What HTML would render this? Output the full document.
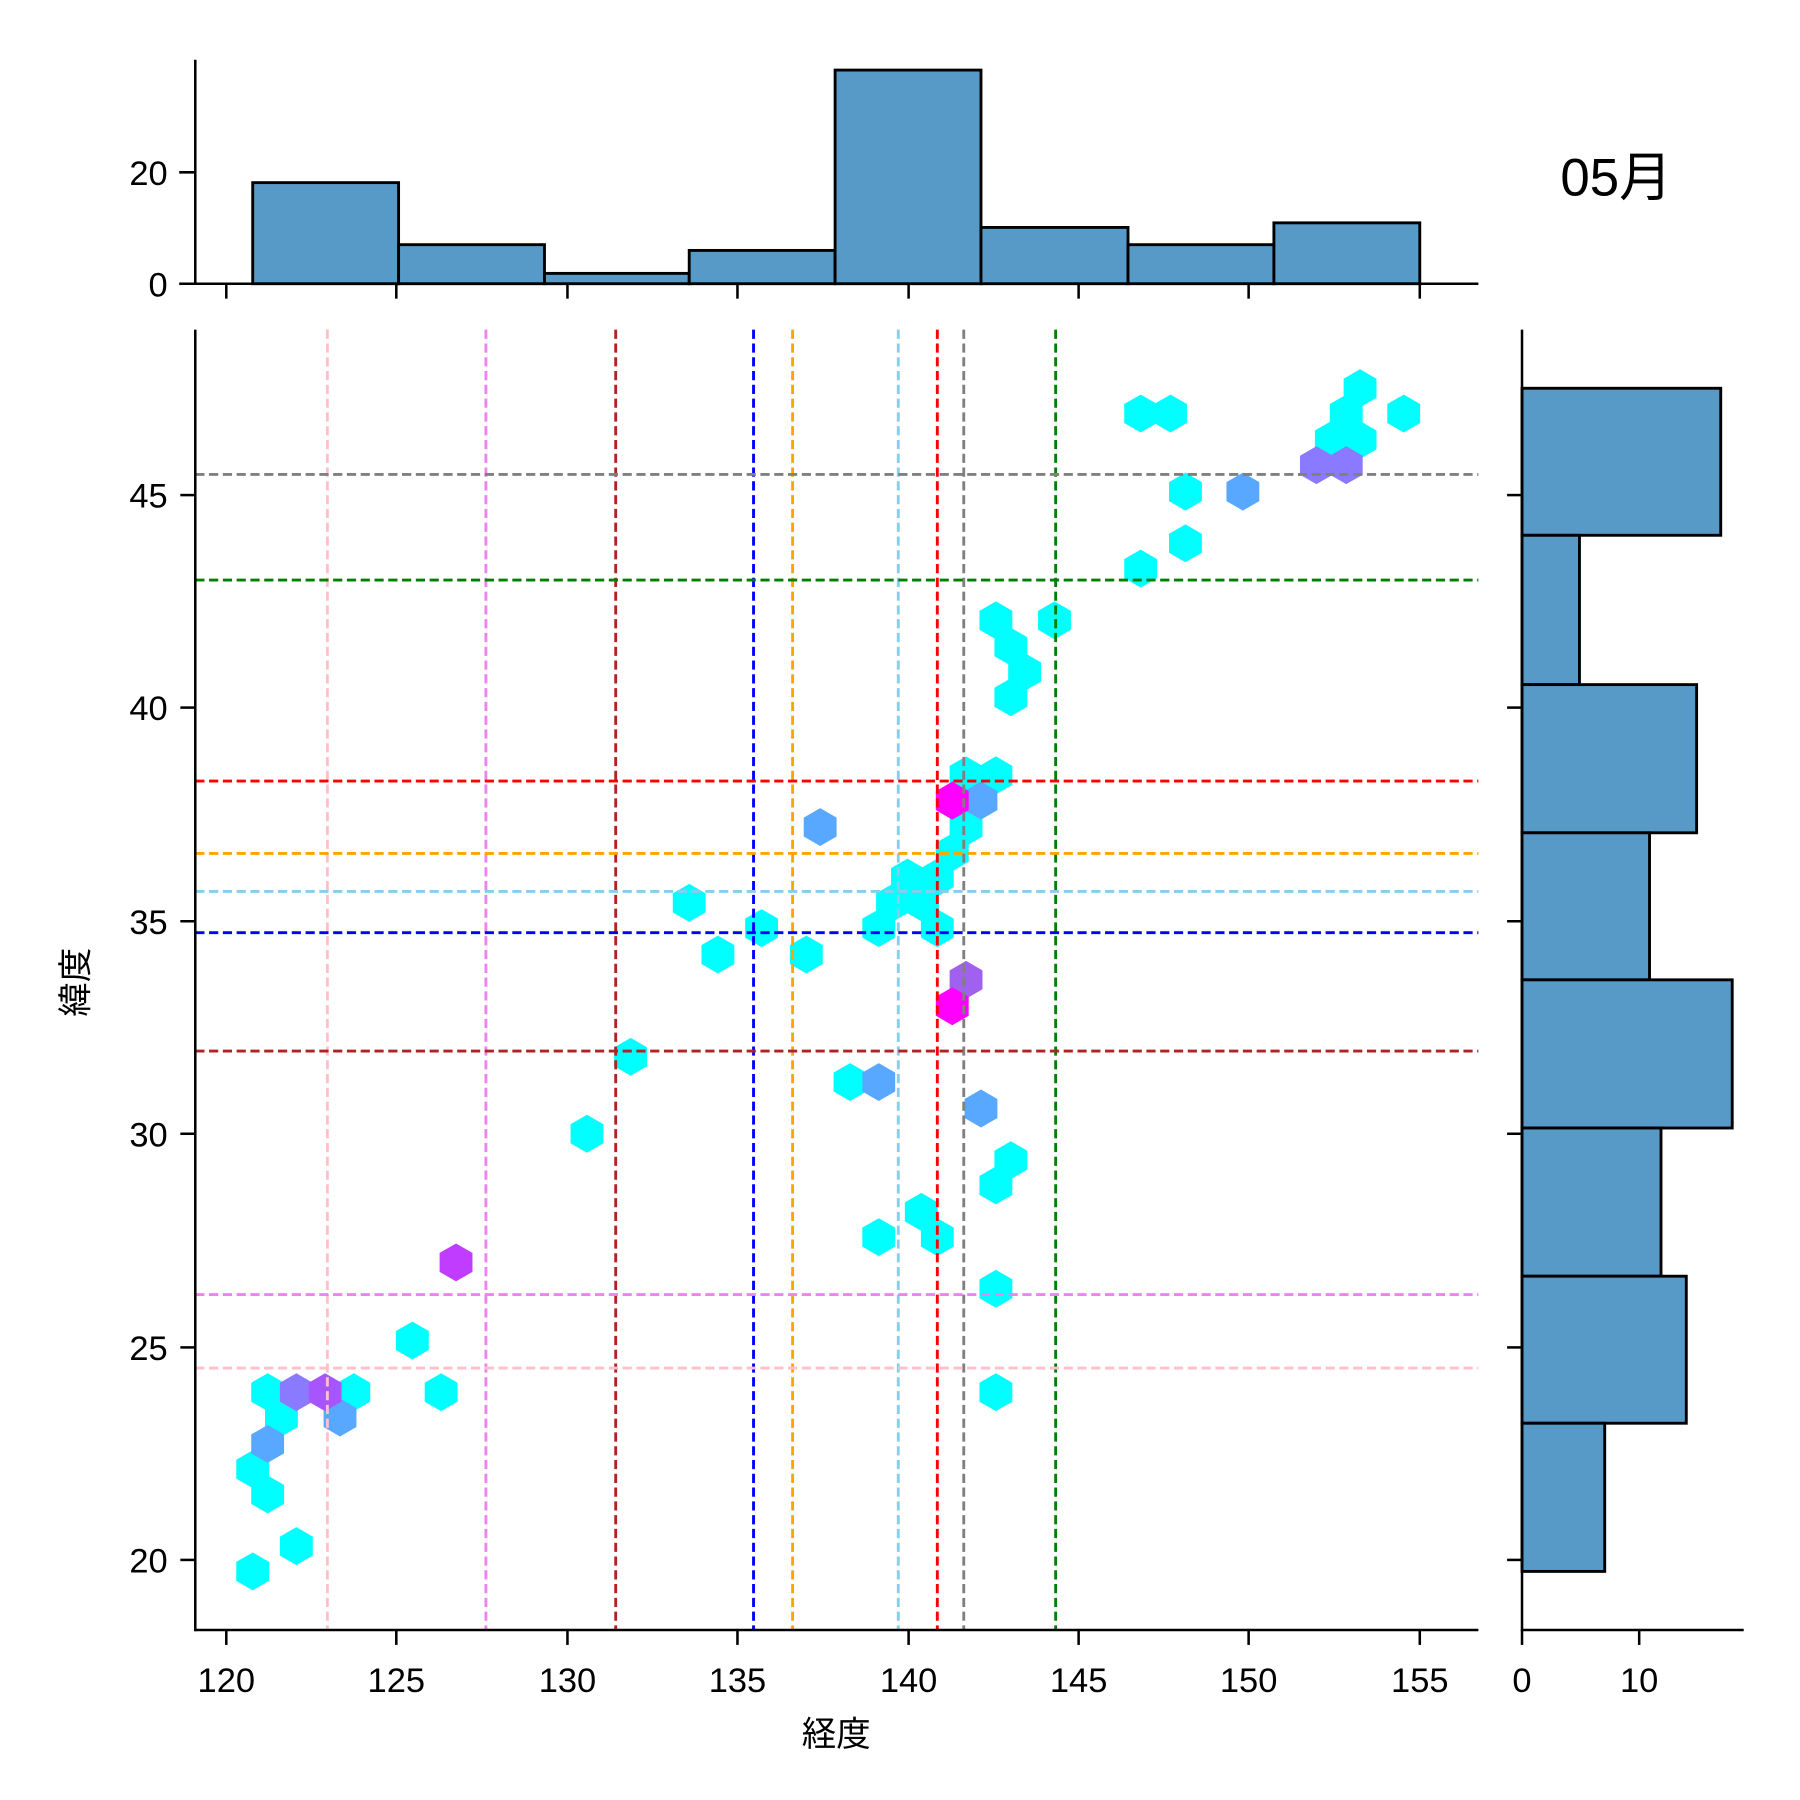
<!DOCTYPE html>
<html><head><meta charset="utf-8"><style>
html,body{margin:0;padding:0;background:#fff}
svg{display:block}
text{font-family:"Liberation Sans","Noto Sans CJK JP",sans-serif;fill:#000}
</style></head><body>
<svg width="1800" height="1800" viewBox="0 0 1567 1567" xmlns="http://www.w3.org/2000/svg">
<defs>
<polygon id="hx" points="0,-16.5 14.3,-8.25 14.3,8.25 0,16.5 -14.3,8.25 -14.3,-8.25"/>
</defs>
<g fill="#5799c7" stroke="#000" stroke-width="2.5">
<rect x="220" y="159" width="127" height="88"/>
<rect x="347" y="213" width="127" height="34"/>
<rect x="474" y="238" width="126" height="9"/>
<rect x="600" y="218" width="127" height="29"/>
<rect x="727" y="61" width="127" height="186"/>
<rect x="854" y="198" width="128" height="49"/>
<rect x="982" y="213" width="127" height="34"/>
<rect x="1109" y="194" width="127" height="53"/>
</g>
<g stroke="#000" stroke-width="2.2" fill="none">
<line x1="170" y1="52" x2="170" y2="248"/>
<line x1="169" y1="247" x2="1287" y2="247"/>
<line x1="156" y1="150" x2="170" y2="150"/>
<line x1="156" y1="247" x2="170" y2="247"/>
<line x1="197" y1="247" x2="197" y2="260"/><line x1="345" y1="247" x2="345" y2="260"/>
<line x1="494" y1="247" x2="494" y2="260"/><line x1="642" y1="247" x2="642" y2="260"/>
<line x1="791" y1="247" x2="791" y2="260"/><line x1="939" y1="247" x2="939" y2="260"/>
<line x1="1087" y1="247" x2="1087" y2="260"/><line x1="1236" y1="247" x2="1236" y2="260"/>
</g>
<g font-size="30" text-anchor="end">
<text x="146" y="161">20</text><text x="146" y="258">0</text>
</g>
<text x="1407" y="170" font-size="46" text-anchor="middle">05月</text>

<g fill="#5799c7" stroke="#000" stroke-width="2.5">
<rect x="1325" y="338" width="173" height="128"/>
<rect x="1325" y="466" width="50" height="130"/>
<rect x="1325" y="596" width="152" height="129"/>
<rect x="1325" y="725" width="111" height="128"/>
<rect x="1325" y="853" width="183" height="129"/>
<rect x="1325" y="982" width="121" height="129"/>
<rect x="1325" y="1111" width="143" height="128"/>
<rect x="1325" y="1239" width="72" height="129"/>
</g>
<g stroke="#000" stroke-width="2.2" fill="none">
<line x1="1325" y1="287" x2="1325" y2="1420"/>
<line x1="1324" y1="1419" x2="1518" y2="1419"/>
<line x1="1325" y1="1419" x2="1325" y2="1432"/><line x1="1427" y1="1419" x2="1427" y2="1432"/>
<line x1="1312" y1="431" x2="1325" y2="431"/><line x1="1312" y1="616" x2="1325" y2="616"/>
<line x1="1312" y1="802" x2="1325" y2="802"/><line x1="1312" y1="987" x2="1325" y2="987"/>
<line x1="1312" y1="1173" x2="1325" y2="1173"/><line x1="1312" y1="1358" x2="1325" y2="1358"/>
</g>
<g font-size="30" text-anchor="middle">
<text x="1325" y="1473">0</text><text x="1427" y="1473">10</text>
</g>

<g fill="#00ffff">
<use href="#hx" x="220" y="1368"/><use href="#hx" x="258" y="1346"/><use href="#hx" x="233" y="1301"/>
<use href="#hx" x="220" y="1279"/><use href="#hx" x="245" y="1234"/><use href="#hx" x="233" y="1212"/>
<use href="#hx" x="308" y="1212"/><use href="#hx" x="359" y="1167"/><use href="#hx" x="384" y="1212"/>
<use href="#hx" x="511" y="987"/><use href="#hx" x="549" y="920"/><use href="#hx" x="600" y="786"/>
<use href="#hx" x="625" y="831"/><use href="#hx" x="663" y="808"/><use href="#hx" x="702" y="831"/>
<use href="#hx" x="740" y="942"/><use href="#hx" x="765" y="1077"/><use href="#hx" x="802" y="1055"/>
<use href="#hx" x="816" y="1077"/><use href="#hx" x="765" y="808"/><use href="#hx" x="777" y="786"/>
<use href="#hx" x="790" y="764"/><use href="#hx" x="816" y="764"/><use href="#hx" x="803" y="786"/>
<use href="#hx" x="816" y="808"/><use href="#hx" x="829" y="742"/><use href="#hx" x="841" y="720"/>
<use href="#hx" x="841" y="675"/><use href="#hx" x="867" y="675"/><use href="#hx" x="867" y="540"/>
<use href="#hx" x="880" y="563"/><use href="#hx" x="892" y="585"/><use href="#hx" x="880" y="607"/>
<use href="#hx" x="918" y="540"/><use href="#hx" x="993" y="495"/><use href="#hx" x="993" y="360"/>
<use href="#hx" x="1019" y="360"/><use href="#hx" x="1032" y="428"/><use href="#hx" x="1032" y="473"/>
<use href="#hx" x="1159" y="383"/><use href="#hx" x="1172" y="360"/><use href="#hx" x="1184" y="338"/>
<use href="#hx" x="1184" y="383"/><use href="#hx" x="1222" y="360"/><use href="#hx" x="880" y="1010"/>
<use href="#hx" x="867" y="1032"/><use href="#hx" x="867" y="1122"/><use href="#hx" x="867" y="1212"/>
</g>
<g fill="#58a8ff">
<use href="#hx" x="233" y="1257"/><use href="#hx" x="296" y="1234"/><use href="#hx" x="714" y="720"/>
<use href="#hx" x="765" y="942"/><use href="#hx" x="854" y="697"/><use href="#hx" x="854" y="965"/>
<use href="#hx" x="1082" y="428"/>
</g>
<g fill="#8a7aff">
<use href="#hx" x="258" y="1212"/><use href="#hx" x="1146" y="405"/><use href="#hx" x="1172" y="405"/>
</g>
<use href="#hx" x="283" y="1212" fill="#a655ff"/>
<use href="#hx" x="397" y="1099" fill="#c03cff"/>
<use href="#hx" x="841" y="853" fill="#a060f0"/>
<use href="#hx" x="829" y="697" fill="#ff00ff"/>
<use href="#hx" x="829" y="876" fill="#ff00ff"/>

<g stroke-width="2.5" stroke-dasharray="8,4" fill="none">
<line x1="285" y1="287" x2="285" y2="1419" stroke="#ffc0cb"/>
<line x1="423" y1="287" x2="423" y2="1419" stroke="#ee82ee"/>
<line x1="536" y1="287" x2="536" y2="1419" stroke="#b22222"/>
<line x1="656" y1="287" x2="656" y2="1419" stroke="#0000ff"/>
<line x1="690" y1="287" x2="690" y2="1419" stroke="#ffa500"/>
<line x1="782" y1="287" x2="782" y2="1419" stroke="#87ceeb"/>
<line x1="816" y1="287" x2="816" y2="1419" stroke="#ff0000"/>
<line x1="839" y1="287" x2="839" y2="1419" stroke="#808080"/>
<line x1="919" y1="287" x2="919" y2="1419" stroke="#008000"/>
<line x1="170" y1="413" x2="1287" y2="413" stroke="#808080"/>
<line x1="170" y1="505" x2="1287" y2="505" stroke="#008000"/>
<line x1="170" y1="680" x2="1287" y2="680" stroke="#ff0000"/>
<line x1="170" y1="743" x2="1287" y2="743" stroke="#ffa500"/>
<line x1="170" y1="776" x2="1287" y2="776" stroke="#87ceeb"/>
<line x1="170" y1="812" x2="1287" y2="812" stroke="#0000ff"/>
<line x1="170" y1="915" x2="1287" y2="915" stroke="#b22222"/>
<line x1="170" y1="1127" x2="1287" y2="1127" stroke="#ee82ee"/>
<line x1="170" y1="1191" x2="1287" y2="1191" stroke="#ffc0cb"/>
</g>

<g stroke="#000" stroke-width="2.2" fill="none">
<line x1="170" y1="287" x2="170" y2="1420"/>
<line x1="169" y1="1419" x2="1287" y2="1419"/>
<line x1="197" y1="1419" x2="197" y2="1432"/><line x1="345" y1="1419" x2="345" y2="1432"/>
<line x1="494" y1="1419" x2="494" y2="1432"/><line x1="642" y1="1419" x2="642" y2="1432"/>
<line x1="791" y1="1419" x2="791" y2="1432"/><line x1="939" y1="1419" x2="939" y2="1432"/>
<line x1="1087" y1="1419" x2="1087" y2="1432"/><line x1="1236" y1="1419" x2="1236" y2="1432"/>
<line x1="157" y1="431" x2="170" y2="431"/><line x1="157" y1="616" x2="170" y2="616"/>
<line x1="157" y1="802" x2="170" y2="802"/><line x1="157" y1="987" x2="170" y2="987"/>
<line x1="157" y1="1173" x2="170" y2="1173"/><line x1="157" y1="1358" x2="170" y2="1358"/>
</g>
<g font-size="30" text-anchor="middle">
<text x="197" y="1473">120</text><text x="345" y="1473">125</text><text x="494" y="1473">130</text>
<text x="642" y="1473">135</text><text x="791" y="1473">140</text><text x="939" y="1473">145</text>
<text x="1087" y="1473">150</text><text x="1236" y="1473">155</text>
</g>
<g font-size="30" text-anchor="end">
<text x="146" y="442">45</text><text x="146" y="627">40</text><text x="146" y="813">35</text>
<text x="146" y="998">30</text><text x="146" y="1184">25</text><text x="146" y="1369">20</text>
</g>
<text x="728" y="1520" font-size="30" text-anchor="middle">経度</text>
<text transform="translate(76,855) rotate(-90)" font-size="30" text-anchor="middle">緯度</text>
</svg>
</body></html>
